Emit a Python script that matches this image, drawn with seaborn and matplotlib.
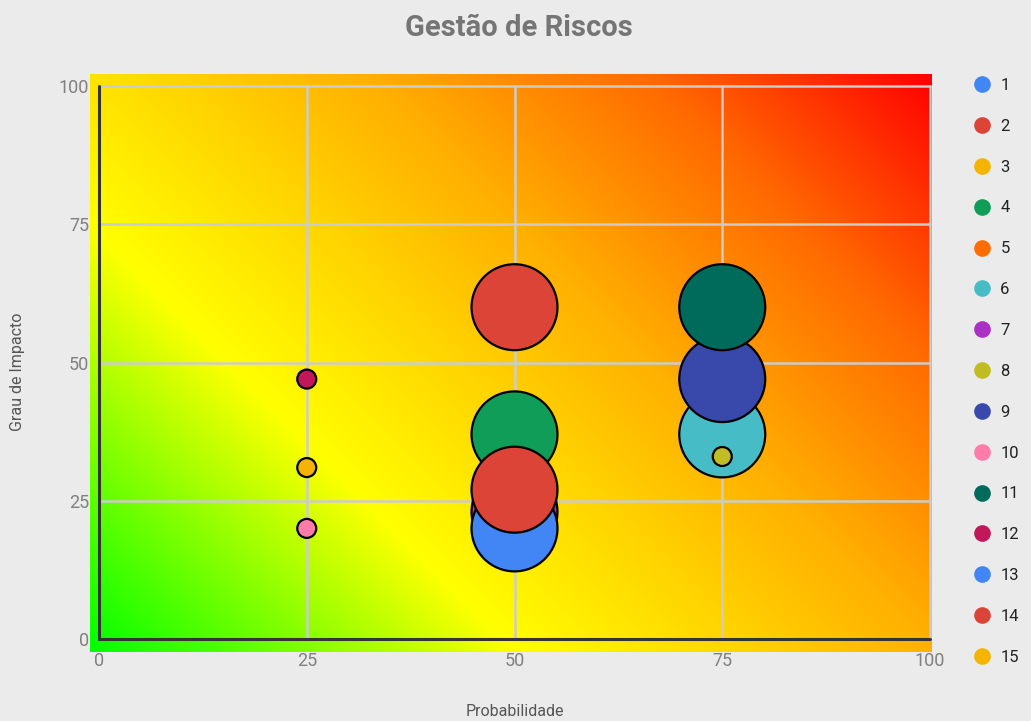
import numpy as np
import pandas as pd
import seaborn as sns
import matplotlib
matplotlib.use("Agg")
from matplotlib import pyplot as plt
from matplotlib.lines import Line2D

# series ids, colours and bubble positions (None = not visible)
series = [str(i) for i in range(1, 16)]
colors = ['#4285f4', '#db4437', '#f4b400', '#0f9d58', '#ff6d01',
          '#46bdc6', '#ab30c4', '#c2bc24', '#3949ab', '#ff7baa',
          '#006b5b', '#c2185b', '#4285f4', '#db4437', '#f4b400']
probabilidade = [None, 50, 25, 50, None, 75, 50, 75, 75, 25, 75, 25, 50, 50, None]
impacto = [None, 60, 31, 37, None, 37, 23, 33, 47, 20, 60, 47, 20, 27, None]
tamanho = [None, 'grande', 'pequeno', 'grande', None, 'grande', 'grande', 'pequeno',
           'grande', 'pequeno', 'grande', 'pequeno', 'grande', 'grande', None]
ticks = [0, 25, 50, 75, 100]

df = pd.DataFrame({'serie': series, 'prob': probabilidade,
                   'impacto': impacto, 'tamanho': tamanho}).dropna()
palette = dict(zip(series, colors))

sns.set_theme(style='white')
plt.rcParams['font.family'] = ['Roboto', 'DejaVu Sans']

fig = plt.figure(figsize=(10.31, 7.21), dpi=100, facecolor='#ebebeb')
ax = fig.add_axes([99/1031, 82/721, 831/1031, 553/721])
ax.set_facecolor('#ebebeb')

# risk gradient: green -> yellow -> orange -> red along the diagonal
W, H = 842, 577
gx, gy = np.meshgrid(np.linspace(0, W, 420), np.linspace(0, H, 290))
t = (gx + gy) / (W + H)
stops = [0, 0.3, 0.6, 0.8, 1.0]
r = np.interp(t, stops, [0, 255, 255, 255, 255])
g = np.interp(t, stops, [255, 255, 176, 106, 0])
b = np.interp(t, stops, [0, 0, 0, 0, 0])
img = np.dstack([r, g, b]) / 255
ax.imshow(img, origin='lower', aspect='auto', zorder=0, clip_on=False,
          extent=(-1.08, 100.24, -2.35, 101.99))

for v in ticks[1:]:
    ax.axvline(v, color='#cccccc', lw=1.8, zorder=1, clip_on=False)
    ax.axhline(v, color='#cccccc', lw=1.8, zorder=1, clip_on=False)
ax.axvline(0, color='#333333', lw=2.2, zorder=2, clip_on=False)
ax.axhline(0, color='#333333', lw=2.2, zorder=2, clip_on=False)

sns.scatterplot(data=df, x='prob', y='impacto', hue='serie', palette=palette,
                size='tamanho', sizes={'grande': 3830, 'pequeno': 187},
                edgecolor='black', linewidth=1.6, alpha=1, legend=False,
                ax=ax, zorder=3, clip_on=False)

ax.set_xlim(0, 100)
ax.set_ylim(0, 100)
ax.set_xticks(ticks)
ax.set_yticks(ticks)
ax.tick_params(length=0, labelsize=13, labelcolor='#808080')
ax.tick_params(axis='x', pad=9)
ax.tick_params(axis='y', pad=7)
for s in ax.spines.values():
    s.set_visible(False)
ax.set_xlabel('')
ax.set_ylabel('')

fig.text(519/1031, 1 - 28/721, 'Gestão de Riscos', ha='center', va='center',
         fontsize=21, fontweight='bold', color='#757575')
fig.text(515/1031, 1 - 711/721, 'Probabilidade', ha='center', va='center',
         fontsize=11.5, color='#555555')
fig.text(18/1031, 1 - 372/721, 'Grau de Impacto', ha='center', va='center',
         rotation=90, fontsize=11.5, color='#555555')

handles = [Line2D([], [], marker='o', ls='', markersize=12, color=c,
                  markeredgewidth=0) for c in colors]
fig.legend(handles, series, loc='upper left', bbox_to_anchor=(957/1031, 1 - 63/721),
           frameon=False, fontsize=12, labelspacing=1.55, handletextpad=0.5,
           labelcolor='#222222', handlelength=1.2)

fig.savefig('out.png', dpi=100, facecolor=fig.get_facecolor())
